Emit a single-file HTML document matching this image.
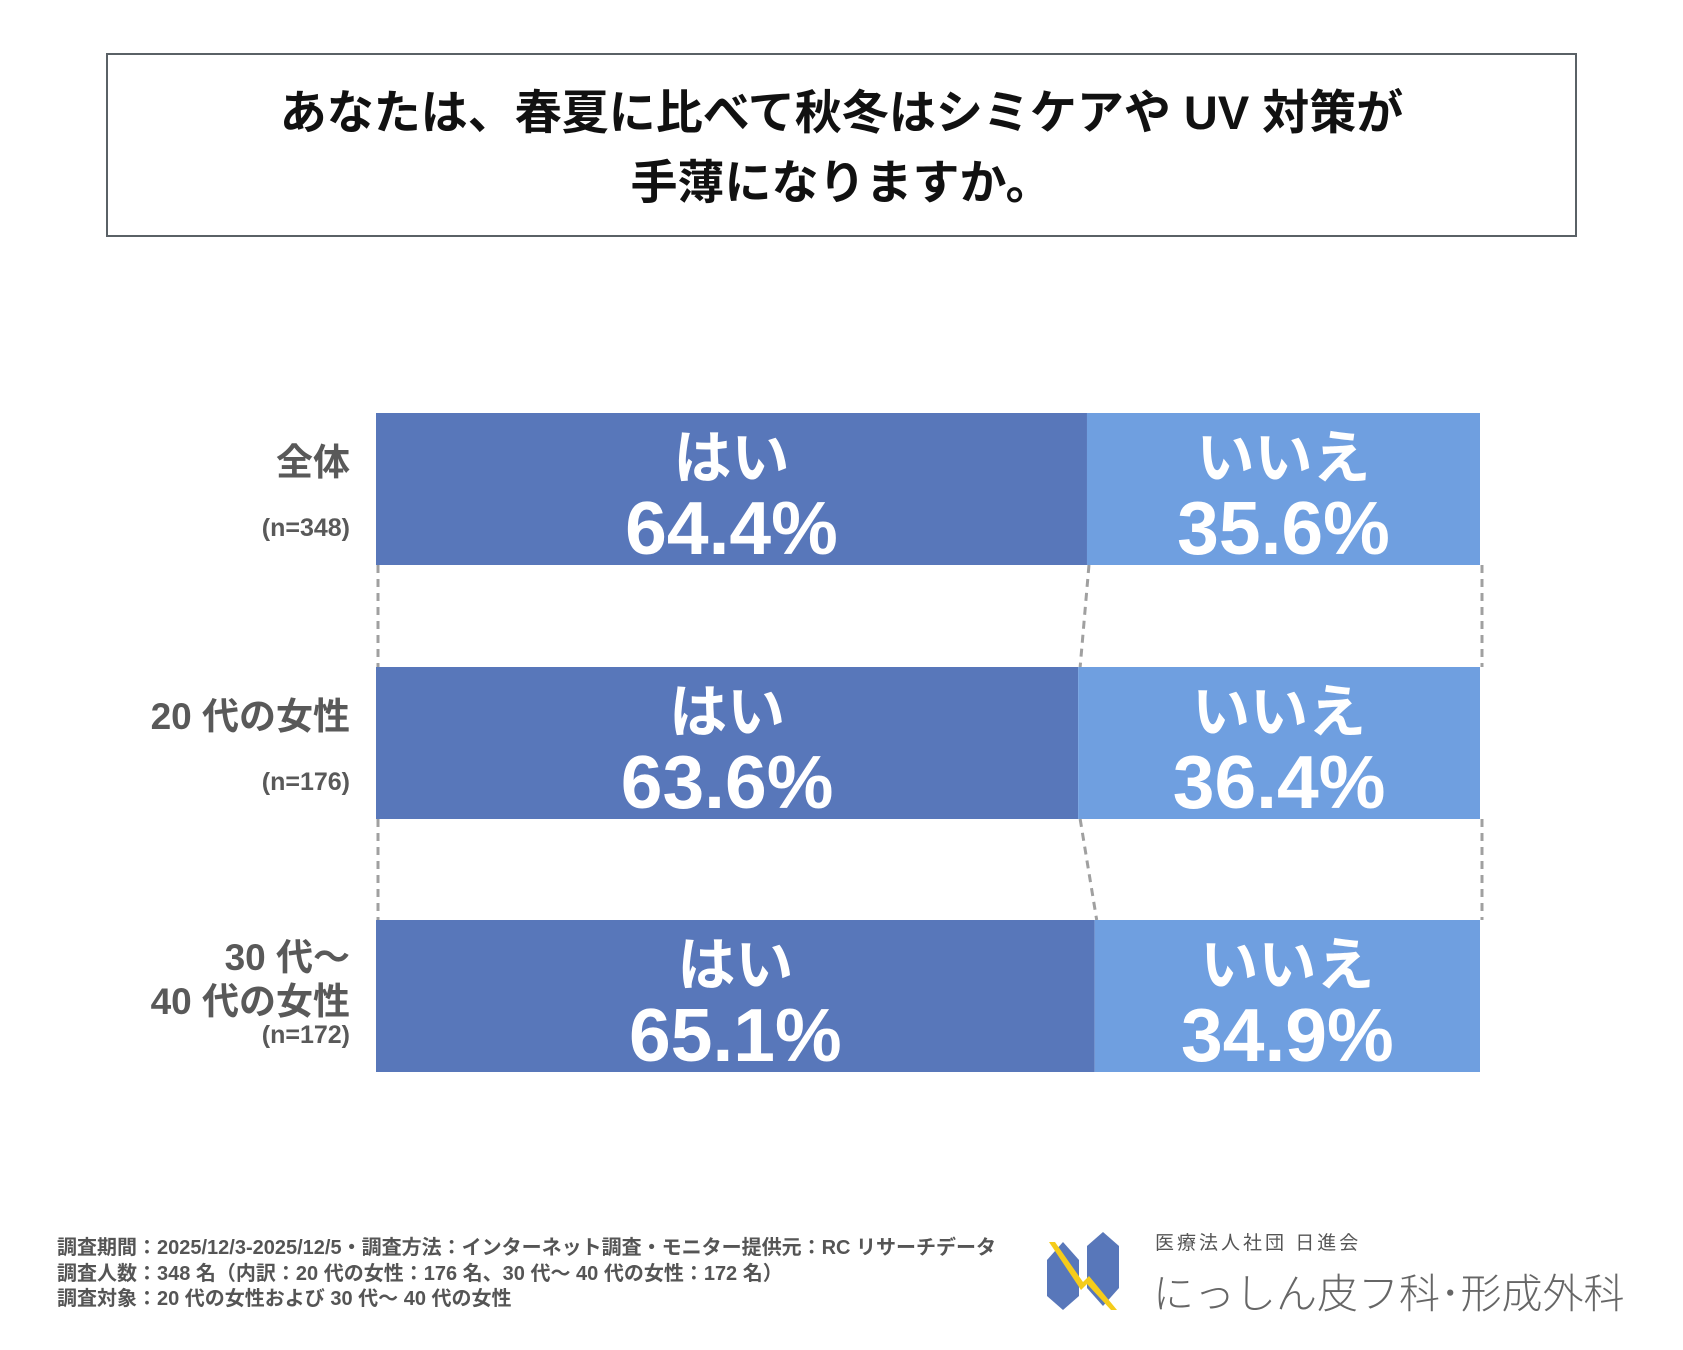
<!DOCTYPE html>
<html><head><meta charset="utf-8"><style>
body{margin:0;width:1683px;height:1350px;background:#fff;position:relative;overflow:hidden;font-family:"Liberation Sans","Noto Sans CJK JP",sans-serif}
.abs{position:absolute}
</style></head><body>
<div class="abs" style="left:106px;top:53px;width:1467px;height:180px;border:2px solid #5a6166;"></div>
<div class="abs" style="left:106px;top:78px;width:1471px;text-align:center;font-weight:bold;font-size:47px;line-height:70px;color:#111;">あなたは、春夏に比べて秋冬はシミケアや UV 対策が<br>手薄になりますか。</div>
<svg class="abs" style="left:0;top:0" width="1683" height="1350" id="chart"></svg>
<div class="abs" style="left:57px;top:1236px;font-size:20px;font-weight:bold;color:#555;line-height:25.5px;">調査期間：2025/12/3-2025/12/5・調査方法：インターネット調査・モニター提供元：RC リサーチデータ<br>調査人数：348 名（内訳：20 代の女性：176 名、30 代～ 40 代の女性：172 名）<br>調査対象：20 代の女性および 30 代～ 40 代の女性</div>
<svg class="abs" style="left:1045px;top:1230px" width="80" height="82">
<polygon points="2,30 18,12 34,30 34,66 18,80 2,66" fill="#5877BA"/>
<polygon points="42,16 58,2 74,16 74,58 58,76 42,58" fill="#5877BA"/>
<polygon points="4,12 10,12 38,52 44,46 72,80 66,80 42,54 36,60" fill="#F5CC1B"/>
</svg>
<div class="abs" style="left:1155px;top:1228px;font-size:19px;color:#555;letter-spacing:3px;">医療法人社団 日進会</div>
<div class="abs" style="left:1153px;top:1260px;font-size:41px;color:#666;font-weight:300;">にっしん皮フ科･形成外科</div>
<script>
const categories=["全体","20 代の女性","30 代～\n40 代の女性"];
const samples=["(n=348)","(n=176)","(n=172)"];
const yesValues=[64.4,63.6,65.1];
const noValues=[35.6,36.4,34.9];
const svg=document.getElementById('chart');
const NS='http://www.w3.org/2000/svg';
const X0=376,W=1104,BH=152,tops=[413,667,920];
const x=v=>X0+v/100*W;
function el(t,a){const e=document.createElementNS(NS,t);for(const k in a)e.setAttribute(k,a[k]);svg.appendChild(e);return e;}
function txt(x,y,s,size,fill,anchor){const e=el('text',{x:x,y:y,'font-size':size,'font-weight':'bold',fill:fill,'text-anchor':anchor,'font-family':'"Liberation Sans","Noto Sans CJK JP",sans-serif'});e.textContent=s;return e;}
categories.forEach((c,i)=>{
  const y=tops[i],sx=x(yesValues[i]);
  const b1=el('rect',{x:X0,y:y,width:sx-X0,height:BH,fill:'#5877BA'});
  
  
  const b2=el('rect',{x:sx,y:y,width:x(yesValues[i]+noValues[i])-sx,height:BH,fill:'#6F9FE0'});
  
  
  const cy=(X0+sx)/2,cn=(sx+x(100))/2;
  let t=txt(cy,y+65,'はい',58,'#fff','middle');
  t=txt(cy,y+141,yesValues[i].toFixed(1)+'%',75,'#fff','middle');
  t=txt(cn,y+65,'いいえ',58,'#fff','middle');
  t=txt(cn,y+141,noValues[i].toFixed(1)+'%',75,'#fff','middle');
  const lines=c.split('\n');
  if(lines.length===1){t=txt(350,y+62,lines[0],37,'#595959','end');}
  else{lines.forEach((l,j)=>{t=txt(350,y+50+j*44,l,37,'#595959','end');});}
  t=txt(350,y+123,samples[i],25,'#595959','end');
  if(i<categories.length-1){
    const y1=y+BH,y2=tops[i+1],sx2=x(yesValues[i+1]);
    [[X0,X0],[sx,sx2],[x(100),x(100)]].forEach(p=>{
      const l=el('line',{x1:p[0]+2,y1:y1,x2:p[1]+2,y2:y2,stroke:'#A0A0A0','stroke-width':3,'stroke-dasharray':'8,6'});
      
      
    });
  }
});
</script>
</body></html>
